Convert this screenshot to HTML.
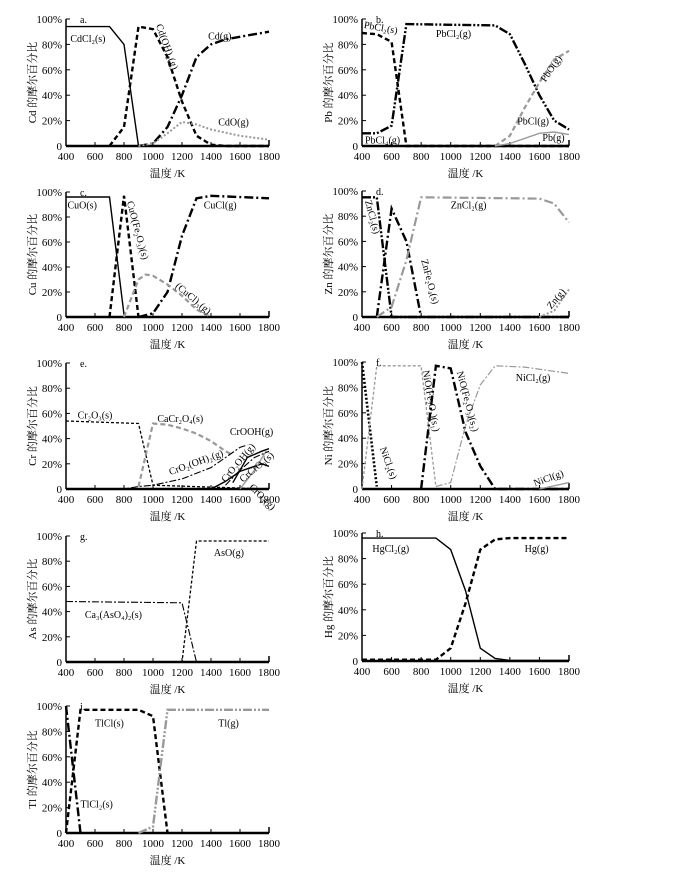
<!DOCTYPE html>
<html><head><meta charset="utf-8"><style>
body{margin:0;background:#fff}
svg{display:block}
text{font-family:"Liberation Serif","Noto Serif CJK SC",serif;fill:#000}
</style></head><body>
<svg id="s" width="682" height="878" xmlns="http://www.w3.org/2000/svg"></svg>
<script>
const S=document.getElementById('s');let h='';
const ST={
 solid:'stroke="#000" stroke-width="1.4" fill="none"',
 dash:'stroke="#000" stroke-width="2.4" stroke-dasharray="5,3" fill="none"',
 dashT:'stroke="#000" stroke-width="1.3" stroke-dasharray="3,2" fill="none"',
 dd:'stroke="#000" stroke-width="2.4" stroke-dasharray="9,3,2,3" fill="none"',
 ddT:'stroke="#000" stroke-width="1.1" stroke-dasharray="7,2,2,2" fill="none"',
 ddd:'stroke="#000" stroke-width="2.4" stroke-dasharray="9,2,2,2,2,2" fill="none"',
 dot:'stroke="#000" stroke-width="2.6" stroke-dasharray="2,2" fill="none"',
 gdash:'stroke="#999" stroke-width="2.2" stroke-dasharray="5,3" fill="none"',
 gdashT:'stroke="#999" stroke-width="1.3" stroke-dasharray="3,2" fill="none"',
 gdot:'stroke="#999" stroke-width="2" stroke-dasharray="2,2" fill="none"',
 gsolid:'stroke="#999" stroke-width="1.4" fill="none"',
 gdd:'stroke="#999" stroke-width="2.2" stroke-dasharray="9,3,2,3" fill="none"',
 gddT:'stroke="#999" stroke-width="1.2" stroke-dasharray="7,2,2,2" fill="none"',
 gddd:'stroke="#999" stroke-width="2.4" stroke-dasharray="9,2,2,2,2,2" fill="none"'
};
function panel(p){
 const X=t=>p.x0+(t-400)/1400*(p.x1-p.x0), Y=v=>p.yb-v/100*(p.yb-p.yt);
 h+=`<line x1="${p.x0}" y1="${p.yt}" x2="${p.x0}" y2="${p.yb}" stroke="#000" stroke-width="1.5"/>`;
 h+=`<line x1="${p.x0}" y1="${p.yb}" x2="${p.x1}" y2="${p.yb}" stroke="#000" stroke-width="2.5"/>`;
 for(let v=0;v<=100;v+=20){const y=Y(v);h+=`<line x1="${p.x0}" y1="${y}" x2="${p.x0+4}" y2="${y}" stroke="#000"/>`;
  h+=`<text x="${p.x0-4}" y="${y+4}" font-size="11" text-anchor="end">${v?v+'%':'0'}</text>`;}
 for(let t=400;t<=1800;t+=200){const x=X(t);h+=`<line x1="${x}" y1="${p.yb}" x2="${x}" y2="${p.yb-4}" stroke="#000"/>`;
  h+=`<text x="${x}" y="${p.yb+14}" font-size="11" text-anchor="middle">${t}</text>`;}
 h+=`<line x1="${p.x1}" y1="${p.yb}" x2="${p.x1}" y2="${p.yb-6}" stroke="#000" stroke-width="1.5"/>`;
 h+=`<text x="${(p.x0+p.x1)/2}" y="${p.yb+31}" font-size="11" text-anchor="middle">温度 /K</text>`;
 const cy=(p.yt+p.yb)/2, lx=p.x0-30;
 h+=`<text transform="translate(${lx},${cy}) rotate(-90)" font-size="11" text-anchor="middle">${p.yl} 的摩尔百分比</text>`;
 h+=`<text x="${p.x0+14}" y="${p.yt+4}" font-size="10">${p.lab}</text>`;
 for(const s of p.s){h+=`<polyline ${ST[s[0]]} points="${s[1].map(q=>X(q[0]).toFixed(1)+','+Y(q[1]).toFixed(1)).join(' ')}"/>`;}
 for(const t of p.t){const x=X(t[0]),y=Y(t[1]);h+=`<text font-size="10" transform="translate(${x},${y}) rotate(${t[3]||0})">${t[2]}</text>`;}
}
const L={x0:66,x1:269},R={x0:362,x1:569};
panel({...L,yt:19,yb:146,lab:'a.',yl:'Cd',s:[
 ['solid',[[400,94],[700,94],[800,80],[900,0],[1800,0]]],
 ['dash',[[700,0],[800,15],[900,94],[1000,92],[1100,70],[1200,35],[1300,8],[1400,1],[1500,0],[1800,0]]],
 ['dd',[[900,0],[1000,2],[1100,15],[1200,40],[1300,70],[1400,80],[1500,84],[1600,86],[1700,88],[1800,90]]],
 ['gdot',[[900,0],[1000,2],[1100,10],[1200,19],[1300,17],[1400,13],[1600,8],[1800,5]]]],
 t:[[430,82,'CdCl₂(s)'],[1020,95,'Cd(OH)₂(g)',70],[1380,84,'Cd(g)'],[1450,16,'CdO(g)']]});
panel({...R,yt:19,yb:146,lab:'b.',yl:'Pb',s:[
 ['dash',[[400,89],[500,88],[600,82],[700,0],[1800,0]]],
 ['ddd',[[400,10],[500,10],[600,16],[700,96],[1300,95],[1400,88],[1500,65],[1600,40],[1700,20],[1800,13]]],
 ['gdash',[[1300,0],[1400,8],[1500,30],[1600,50],[1700,68],[1800,75]]],
 ['gsolid',[[1300,0],[1400,2],[1600,10],[1700,11],[1800,9]]]],
 t:[[410,93,'PbCl₂(s)',10],[900,86,'PbCl₂(g)'],[1640,50,'PbO(g)',-55],[1450,17,'PbCl(g)'],[1620,4,'Pb(g)'],[420,2,'PbCl₄(g)']]});
panel({...L,yt:192,yb:317,lab:'c.',yl:'Cu',s:[
 ['solid',[[400,96],[700,96],[800,2],[810,0],[1800,0]]],
 ['dash',[[700,0],[800,97],[900,0]]],
 ['dd',[[900,0],[1000,3],[1100,20],[1200,65],[1300,95],[1400,97],[1800,95]]],
 ['gdash',[[800,0],[900,30],[950,34],[1000,33],[1100,26],[1200,17],[1300,6],[1400,0]]]],
 t:[[410,87,'CuO(s)'],[820,92,'CuO(Fe₂O₃)(s)',75],[1350,87,'CuCl(g)'],[1150,24,'(CuCl)₃(g)',40]]});
panel({...R,yt:191,yb:317,lab:'d.',yl:'Zn',s:[
 ['ddd',[[400,95],[500,95],[600,0],[1800,0]]],
 ['dd',[[500,0],[600,86],[700,60],[800,0]]],
 ['gdd',[[500,0],[600,8],[700,45],[800,95],[1600,94],[1700,90],[1800,75]]],
 ['gdot',[[1600,0],[1700,5],[1800,22]]]],
 t:[[420,92,'ZnCl₂(s)',75],[1000,86,'ZnCl₂(g)'],[800,45,'ZnFe₂O₄(s)',75],[1680,6,'Zn(g)',-50]]});
panel({...L,yt:363,yb:489,lab:'e.',yl:'Cr',s:[
 ['dashT',[[400,54],[900,52],[1000,3],[1800,0]]],
 ['gdash',[[900,2],[1000,52],[1100,51],[1200,48],[1300,44],[1400,38],[1500,30],[1550,27]]],
 ['ddT',[[400,0],[800,0],[900,2],[1000,3],[1200,8],[1400,17],[1600,33],[1650,35]]],
 ['solid',[[400,0],[1400,0],[1500,6],[1600,14],[1700,18],[1750,20],[1800,18]]],
 ['solid',[[1550,5],[1650,25],[1750,30],[1800,32]]],
 ['gsolid',[[1600,0],[1700,15],[1780,30]]],
 ['ddT',[[1500,3],[1600,15],[1700,25],[1800,30]]]],
 t:[[480,56,'Cr₂O₃(s)'],[1030,53,'CaCr₂O₄(s)'],[1530,43,'CrOOH(g)'],[1120,11,'CrO₂(OH)₂(g)',-20],[1500,5,'CrO₂OH(g)',-50],[1620,5,'CrCrO₃(s)',-40],[1660,1,'CrO₃(g)',45]]});
panel({...R,yt:362,yb:489,lab:'f.',yl:'Ni',s:[
 ['dot',[[400,100],[500,2]]],
 ['gdashT',[[400,0],[500,97],[800,97],[900,2]]],
 ['dd',[[800,0],[900,97],[1000,95],[1100,45],[1200,18],[1300,0],[1800,0]]],
 ['gddT',[[900,2],[1000,5],[1100,50],[1200,82],[1300,97],[1500,96],[1800,91]]],
 ['gsolid',[[1600,0],[1800,5]]]],
 t:[[520,32,'NiCl₂(s)',70],[810,93,'NiO(Fe₂O₃)(s₁)',80],[1040,92,'NiO(Fe₂O₃)(s₂)',75],[1440,85,'NiCl₂(g)'],[1570,2,'NiCl(g)',-20]]});
panel({...L,yt:536,yb:662,lab:'g.',yl:'As',s:[
 ['ddT',[[400,48],[1200,47],[1300,0]]],
 ['dashT',[[400,0],[1200,0],[1300,96],[1800,96]]]],
 t:[[530,35,'Ca₃(AsO₄)₂(s)'],[1420,84,'AsO(g)']]});
panel({...R,yt:533,yb:661,lab:'h.',yl:'Hg',s:[
 ['solid',[[400,96],[900,96],[1000,87],[1100,55],[1200,10],[1300,2],[1400,0.5],[1800,0.5]]],
 ['dash',[[400,1],[900,1],[1000,10],[1100,45],[1200,87],[1300,95],[1400,96],[1800,96]]]],
 t:[[470,85,'HgCl₂(g)'],[1500,85,'Hg(g)']]});
panel({...L,yt:706,yb:833,lab:'i.',yl:'Tl',s:[
 ['dd',[[400,100],[500,0]]],
 ['dash',[[400,0],[500,97],[900,97],[1000,92],[1100,0]]],
 ['gddd',[[900,0],[1000,5],[1100,97],[1800,97]]]],
 t:[[600,84,'TlCl(s)'],[500,20,'TlCl₂(s)'],[1450,84,'Tl(g)']]});
S.innerHTML=h;
</script>
</body></html>
